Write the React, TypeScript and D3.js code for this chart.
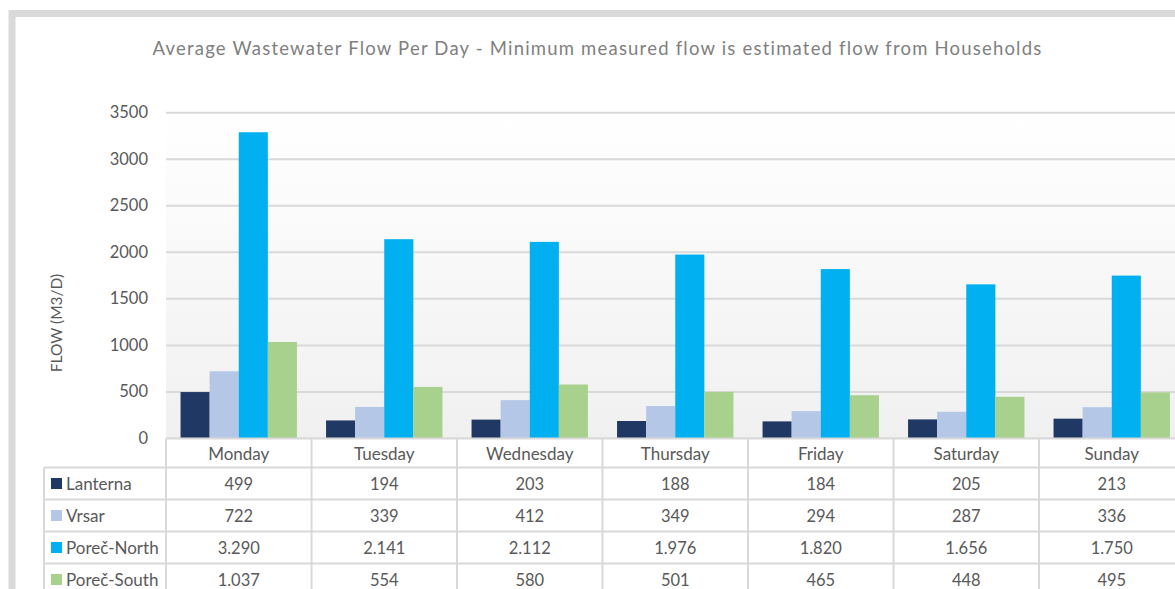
import React from "react";
import * as d3 from "d3";

const categories = ["Monday", "Tuesday", "Wednesday", "Thursday", "Friday", "Saturday", "Sunday"];
const seriesNames = ["Lanterna", "Vrsar", "Poreč-North", "Poreč-South"];
const lanterna = [499, 194, 203, 188, 184, 205, 213];
const vrsar = [722, 339, 412, 349, 294, 287, 336];
const porecNorth = [3290, 2141, 2112, 1976, 1820, 1656, 1750];
const porecSouth = [1037, 554, 580, 501, 465, 448, 495];
const yTicks = [0, 500, 1000, 1500, 2000, 2500, 3000, 3500];
const colors = ["#203864", "#b4c7e7", "#00b0f0", "#a9d18e"];
const title = "Average Wastewater Flow Per Day - Minimum measured flow is estimated flow from Households";
const yLabel = "FLOW (M3/D)";

const seriesValues = [lanterna, vrsar, porecNorth, porecSouth];

const W = 1175;
const H = 589;
const FONT = "Lato, 'Open Sans', sans-serif";

export default function App() {
  const plotLeft = 166;
  const plotRight = 1184.5;
  const plotTop = 112.7;
  const plotBottom = 438.5;

  const x = d3.scaleBand<string>().domain(categories).range([plotLeft, plotRight]).paddingInner(0).paddingOuter(0);
  const x1 = d3
    .scaleBand<number>()
    .domain(d3.range(seriesNames.length))
    .range([0, x.bandwidth()])
    .paddingOuter(0.5)
    .paddingInner(0);
  const y = d3.scaleLinear().domain([0, 3500]).range([plotBottom, plotTop]);

  const locale = d3.formatLocale({ decimal: ",", thousands: ".", grouping: [3], currency: ["", ""] });
  const fmt = locale.format(",d");

  const headerH = 29;
  const rowH = 32;
  const legendLeft = 44;
  const gridColor = "#d9d9d9";
  const textColor = "#595959";

  const rowsTop = plotBottom + headerH;

  return (
    <svg width={W} height={H} style={{ position: "absolute", left: 0, top: 0, background: "#fff" }}>
      <defs>
        <linearGradient id="plotBg" x1="0" y1="0" x2="0" y2="1">
          <stop offset="0" stopColor="#ffffff" />
          <stop offset="1" stopColor="#f0f0f0" />
        </linearGradient>
      </defs>
      {/* frame */}
      <rect x={12} y={13.5} width={1200} height={640} fill="#fff" stroke="#d9d9d9" strokeWidth={7} />

      <text x={597.5} y={55} textAnchor="middle" fontFamily={FONT} fontSize={18.5} fill="#7f7f7f" letterSpacing={1.2}>
        {title}
      </text>

      {/* plot background */}
      <rect x={plotLeft} y={plotTop} width={plotRight - plotLeft} height={plotBottom - plotTop} fill="url(#plotBg)" />

      {/* gridlines */}
      {yTicks.map((t) => (
        <line key={t} x1={plotLeft} x2={plotRight} y1={y(t)} y2={y(t)} stroke={gridColor} strokeWidth={2} />
      ))}
      {/* ticks labels */}
      {yTicks.map((t) => (
        <text key={"l" + t} x={148} y={y(t) + 5.5} textAnchor="end" fontFamily={FONT} fontSize={16.5} fill={textColor}>
          {t}
        </text>
      ))}

      <text
        transform={`translate(62, 323) rotate(-90)`}
        textAnchor="middle"
        fontFamily={FONT}
        fontSize={15.5}
        fill={textColor}
      >
        {yLabel}
      </text>

      {/* bars */}
      {categories.map((c, ci) => (
        <g key={c} transform={`translate(${x(c)},0)`}>
          {seriesValues.map((vals, si) => (
            <rect
              key={si}
              x={x1(si)}
              y={y(vals[ci])}
              width={x1.bandwidth()}
              height={plotBottom - y(vals[ci])}
              fill={colors[si]}
            />
          ))}
        </g>
      ))}

      {/* table */}
      <rect x={plotLeft} y={plotBottom} width={plotRight - plotLeft} height={H} fill="#fff" />
      <rect x={legendLeft} y={rowsTop} width={plotLeft - legendLeft} height={H} fill="#fff" />
      {/* horizontal lines */}
      <line x1={plotLeft} x2={plotRight} y1={plotBottom} y2={plotBottom} stroke={gridColor} strokeWidth={2} />
      {seriesNames.map((_, i) => (
        <line
          key={"h" + i}
          x1={legendLeft}
          x2={plotRight}
          y1={rowsTop + i * rowH}
          y2={rowsTop + i * rowH}
          stroke={gridColor}
          strokeWidth={2}
        />
      ))}
      <line x1={legendLeft} x2={plotRight} y1={rowsTop + 4 * rowH} y2={rowsTop + 4 * rowH} stroke={gridColor} strokeWidth={2} />
      {/* vertical lines */}
      <line x1={legendLeft} x2={legendLeft} y1={rowsTop} y2={H} stroke={gridColor} strokeWidth={2} />
      {categories.map((c) => (
        <line key={"v" + c} x1={x(c)} x2={x(c)} y1={plotBottom} y2={H} stroke={gridColor} strokeWidth={2} />
      ))}
      <line x1={plotRight} x2={plotRight} y1={plotBottom} y2={H} stroke={gridColor} strokeWidth={2} />

      {/* header */}
      {categories.map((c) => (
        <text
          key={"hd" + c}
          x={(x(c) as number) + x.bandwidth() / 2}
          y={plotBottom + 21.5}
          textAnchor="middle"
          fontFamily={FONT}
          fontSize={17}
          fill={textColor}
        >
          {c}
        </text>
      ))}

      {/* rows */}
      {seriesNames.map((name, si) => (
        <g key={name}>
          <rect x={51} y={rowsTop + si * rowH + 10.5} width={11} height={11} fill={colors[si]} />
          <text x={66} y={rowsTop + si * rowH + 22} fontFamily={FONT} fontSize={17} fill={textColor}>
            {name}
          </text>
          {categories.map((c, ci) => (
            <text
              key={c}
              x={(x(c) as number) + x.bandwidth() / 2}
              y={rowsTop + si * rowH + 22.5}
              textAnchor="middle"
              fontFamily={FONT}
              fontSize={16.5}
              fill={textColor}
            >
              {fmt(seriesValues[si][ci])}
            </text>
          ))}
        </g>
      ))}
    </svg>
  );
}
